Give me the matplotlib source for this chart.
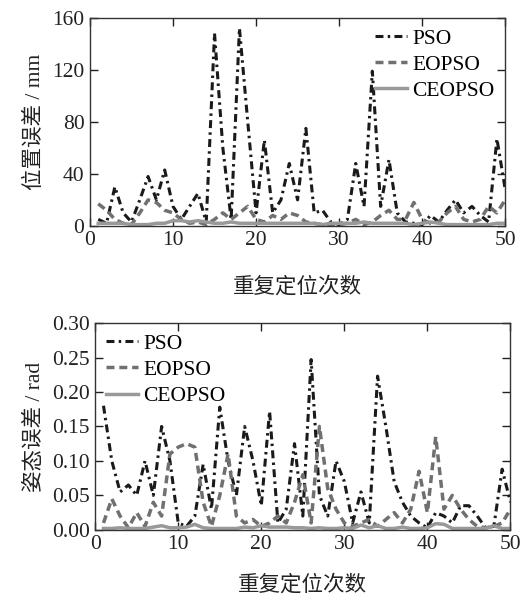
import matplotlib
matplotlib.use("Agg")
import matplotlib.pyplot as plt
import numpy as np

runs = list(range(1, 51))

pos_pso = [5, 2, 30, 10, 3, 20, 38, 20, 43, 15, 5, 15, 25, 3, 148, 60, 5, 152, 80, 10,
           66, 10, 20, 48, 20, 75, 10, 12, 3, 1, 5, 48, 15, 119, 15, 51, 10, 3, 2, 1,
           8, 3, 12, 20, 10, 15, 8, 3, 67, 28]
pos_eopso = [17, 12, 5, 2, 1, 10, 20, 18, 12, 10, 5, 2, 3, 1, 5, 10, 5, 10, 15, 5,
             3, 8, 5, 10, 8, 3, 2, 1, 1, 1, 2, 5, 1, 3, 8, 12, 5, 5, 18, 5,
             2, 3, 10, 15, 5, 3, 5, 15, 10, 20]
pos_ceopso = [2, 2, 2, 2, 1, 1, 1, 2, 2, 4, 4, 3, 4, 3, 2, 2, 3, 2, 2, 2,
              2, 2, 2, 2, 2, 2, 2, 1, 2, 2, 2, 2, 3, 2, 2, 2, 2, 2, 1, 2,
              3, 2, 1, 1, 1, 1, 1, 1, 2, 2]

att_pso = [0.18, 0.10, 0.055, 0.065, 0.05, 0.10, 0.05, 0.15, 0.10, 0.01,
           0.005, 0.02, 0.095, 0.03, 0.178, 0.10, 0.05, 0.15, 0.10, 0.035,
           0.172, 0.01, 0.03, 0.125, 0.02, 0.247, 0.05, 0.02, 0.10, 0.07,
           0.01, 0.055, 0.01, 0.223, 0.15, 0.07, 0.04, 0.02, 0.01, 0.003,
           0.025, 0.02, 0.01, 0.035, 0.035, 0.02, 0.003, 0.005, 0.088, 0.04]
att_eopso = [0.01, 0.045, 0.02, 0.003, 0.025, 0.005, 0.04, 0.02, 0.11, 0.12,
             0.125, 0.12, 0.04, 0.005, 0.05, 0.11, 0.02, 0.01, 0.015, 0.005,
             0.01, 0.02, 0.01, 0.04, 0.08, 0.01, 0.15, 0.06, 0.03, 0.01,
             0.005, 0.01, 0.015, 0.005, 0.015, 0.025, 0.01, 0.03, 0.085, 0.025,
             0.135, 0.03, 0.05, 0.03, 0.015, 0.005, 0.003, 0.005, 0.01, 0.03]
att_ceopso = [0.002, 0.002, 0.003, 0.002, 0.002, 0.002, 0.004, 0.006, 0.003, 0.003,
              0.004, 0.008, 0.003, 0.002, 0.002, 0.002, 0.002, 0.004, 0.003, 0.006,
              0.004, 0.004, 0.004, 0.003, 0.003, 0.002, 0.003, 0.002, 0.002, 0.003,
              0.002, 0.007, 0.003, 0.006, 0.002, 0.002, 0.004, 0.002, 0.002, 0.003,
              0.009, 0.008, 0.002, 0.002, 0.002, 0.002, 0.002, 0.006, 0.002, 0.002]

series_names = ["PSO", "EOPSO", "CEOPSO"]
top_yticks = [0, 40, 80, 120, 160]
bot_yticks = [0.00, 0.05, 0.10, 0.15, 0.20, 0.25, 0.30]
xticks = [0, 10, 20, 30, 40, 50]

plt.rcParams['font.family'] = ['Liberation Serif', 'Noto Sans CJK SC']
plt.rcParams['axes.unicode_minus'] = False

fig = plt.figure(figsize=(5.23, 5.96), dpi=100)
ax1 = fig.add_axes([0.172, 0.621, 0.794, 0.349])
ax2 = fig.add_axes([0.182, 0.111, 0.794, 0.347])

styles = [
    dict(color='#1a1a1a', linestyle=(0, (2.6, 1.4, 0.8, 1.4)), linewidth=2.2),
    dict(color='#707070', linestyle=(0, (2.3, 1.4)), linewidth=2.5),
    dict(color='#999999', linestyle='-', linewidth=2.5),
]

for ax, data, yt, ylim, ylabel, loc, xpad in [
    (ax1, [pos_pso, pos_eopso, pos_ceopso], top_yticks, (0, 160), '位置误差 / mm', 'upper right', 19),
    (ax2, [att_pso, att_eopso, att_ceopso], bot_yticks, (0, 0.30), '姿态误差 / rad', 'upper left', 15),
]:
    for vals, name, st in zip(data, series_names, styles):
        ax.plot(runs, vals, label=name, **st)
    ax.set_xlim(0, 50)
    ax.set_ylim(*ylim)
    ax.set_xticks(xticks)
    ax.set_yticks(yt)
    if ax is ax2:
        ax.set_yticklabels([f"{v:.2f}" for v in yt])
    ax.tick_params(direction='in', top=True, right=True, length=6, width=1,
                   labelsize=15.5, colors='#222222', pad=4)
    for sp in ax.spines.values():
        sp.set_color('#333333')
        sp.set_linewidth(1.0)
    ax.set_xlabel('重复定位次数', fontsize=15.5, color='#222222', labelpad=xpad)
    ax.set_ylabel(ylabel, fontsize=15.5, color='#222222', labelpad=5)
    ax.legend(loc=loc, frameon=False, fontsize=15.5, handlelength=1.5,
              handletextpad=0.25, labelspacing=0.28, borderaxespad=0.1)

fig.savefig('out.png', dpi=100)
